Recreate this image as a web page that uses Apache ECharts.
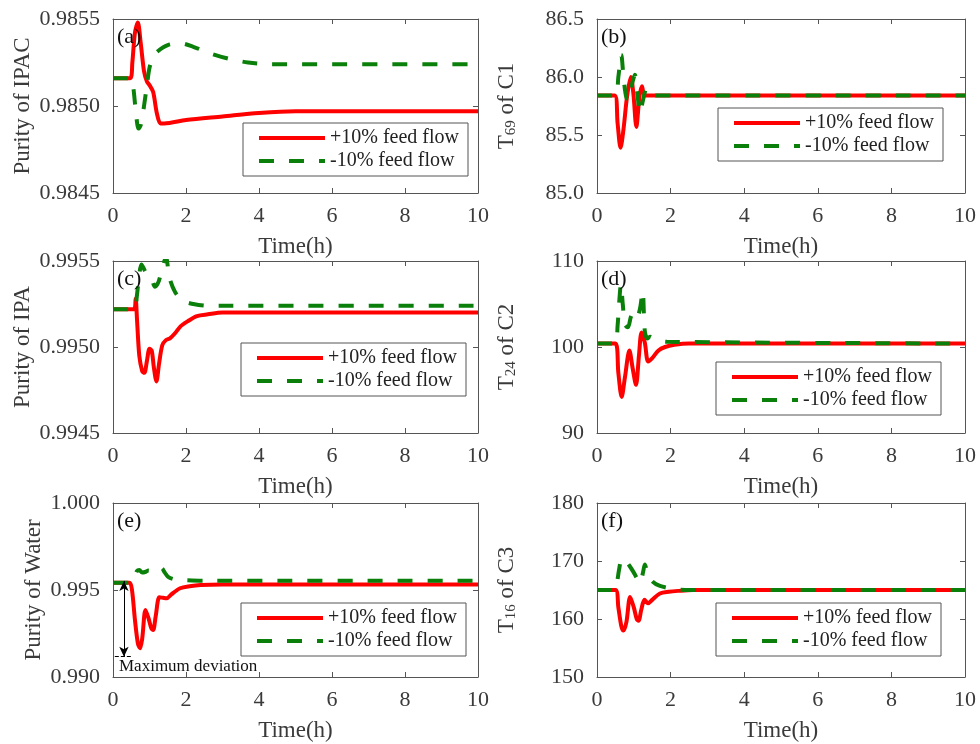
<!DOCTYPE html>
<html>
<head>
<meta charset="utf-8">
<script src="https://cdn.jsdelivr.net/npm/echarts@6/dist/echarts.min.js"></script>
<style>
html,body{margin:0;padding:0;background:#fff;}
#chart{width:980px;height:744px;}
</style>
</head>
<body>
<div id="chart"></div>
<script>
// ---------- DATA ----------
const seriesNames = ['+10% feed flow', '-10% feed flow'];
const xTicks = [0, 2, 4, 6, 8, 10];

// (a) Purity of IPAC
const aRedT   = [0, 0.47, 0.53, 0.6, 0.68, 0.76, 0.85, 0.93, 1.0, 1.1, 1.2, 1.3, 1.4, 2, 3, 4, 5, 10];
const aRedY   = [0.98516, 0.98516, 0.98525, 0.98542, 0.98548, 0.98536, 0.98520, 0.98514, 0.98512, 0.98508, 0.98496, 0.98490, 0.98490, 0.98492, 0.98494, 0.98496, 0.98497, 0.98497];
const aGreenT = [0, 0.5, 0.56, 0.62, 0.7, 0.76, 0.85, 0.93, 1.0, 1.1, 1.2, 1.5, 1.85, 2.2, 2.7, 3.2, 3.7, 4.3, 10];
const aGreenY = [0.98516, 0.98516, 0.98510, 0.98498, 0.98487, 0.98489, 0.98500, 0.98512, 0.98522, 0.98528, 0.98531, 0.98535, 0.98536, 0.98534, 0.98530, 0.98527, 0.98525, 0.98524, 0.98524];

// (b) T69 of C1
const bRedT   = [0, 0.48, 0.56, 0.64, 0.72, 0.82, 0.92, 0.99, 1.07, 1.15, 1.22, 1.32, 10];
const bRedY   = [85.84, 85.84, 85.6, 85.39, 85.55, 85.84, 86.0, 85.85, 85.57, 85.82, 85.92, 85.84, 85.84];
const bGreenT = [0, 0.5, 0.58, 0.66, 0.72, 0.8, 0.88, 0.96, 1.03, 1.1, 1.17, 1.25, 1.35, 1.5, 10];
const bGreenY = [85.84, 85.84, 86.0, 86.19, 86.0, 85.82, 85.8, 85.95, 86.02, 85.85, 85.69, 85.8, 85.9, 85.84, 85.84];

// (c) Purity of IPA
const cRedT   = [0, 0.58, 0.62, 0.66, 0.72, 0.8, 0.86, 0.93, 1.0, 1.06, 1.12, 1.19, 1.26, 1.35, 1.45, 1.56, 1.7, 1.85, 2.05, 2.3, 2.6, 3.0, 10];
const cRedY   = [0.99522, 0.99522, 0.99528, 0.99515, 0.99495, 0.99486, 0.99485, 0.99492, 0.99499, 0.99498, 0.99488, 0.99480, 0.99490, 0.99501, 0.99504, 0.99505, 0.99508, 0.99512, 0.99515, 0.99518, 0.99519, 0.99520, 0.99520];
const cGreenT = [0, 0.6, 0.65, 0.7, 0.78, 0.88, 0.97, 1.05, 1.15, 1.25, 1.35, 1.45, 1.55, 1.7, 1.9, 2.2, 2.6, 3.0, 10];
const cGreenY = [0.99522, 0.99522, 0.99529, 0.99538, 0.99548, 0.99544, 0.99541, 0.99540, 0.99535, 0.99538, 0.99546, 0.99552, 0.99540, 0.99532, 0.99527, 0.99525, 0.99524, 0.99524, 0.99524];

// (d) T24 of C2
const dRedT   = [0, 0.5, 0.58, 0.67, 0.76, 0.88, 0.97, 1.06, 1.14, 1.21, 1.3, 1.39, 1.5, 1.67, 1.85, 2.1, 2.5, 10];
const dRedY   = [100.4, 100.4, 97, 94.2, 96.5, 99.6, 97.5, 95.6, 99, 101.7, 100.5, 98.3, 98.7, 99.6, 100.0, 100.25, 100.4, 100.4];
const dGreenT = [0, 0.5, 0.56, 0.6, 0.65, 0.7, 0.76, 0.84, 0.92, 0.99, 1.08, 1.17, 1.24, 1.3, 1.37, 1.44, 1.6, 1.9, 10];
const dGreenY = [100.4, 100.4, 102.5, 105, 107.3, 105, 102.6, 102.3, 103.5, 104, 103.4, 104.5, 106.5, 101.8, 101.0, 101.2, 100.8, 100.6, 100.4];

// (e) Purity of Water
const eRedT   = [0, 0.45, 0.52, 0.6, 0.68, 0.74, 0.8, 0.89, 0.97, 1.05, 1.1, 1.17, 1.27, 1.37, 1.47, 1.6, 1.84, 2.1, 2.4, 3, 10];
const eRedY   = [0.99542, 0.99542, 0.99500, 0.99330, 0.99195, 0.99165, 0.99220, 0.99385, 0.99340, 0.99280, 0.99270, 0.99350, 0.99458, 0.99455, 0.99452, 0.99475, 0.99510, 0.99522, 0.99529, 0.99532, 0.99532];
const eGreenT = [0, 0.5, 0.58, 0.66, 0.72, 0.8, 0.9, 0.97, 1.05, 1.15, 1.25, 1.33, 1.42, 1.51, 1.7, 2.0, 2.5, 10];
const eGreenY = [0.99542, 0.99542, 0.99570, 0.99610, 0.99615, 0.99600, 0.99605, 0.99612, 0.99610, 0.99602, 0.99615, 0.99625, 0.99600, 0.99575, 0.99560, 0.99556, 0.99553, 0.99553];
// "Maximum deviation" annotation (data coordinates)
const eArrowX = 0.3;
const eArrowY = [0.99552, 0.99117];
const eDashX  = [0.05, 0.54];

// (f) T16 of C3
const fRedT   = [0, 0.5, 0.58, 0.66, 0.72, 0.8, 0.9, 1.0, 1.08, 1.13, 1.2, 1.29, 1.39, 1.5, 1.71, 1.95, 2.2, 2.6, 10];
const fRedY   = [165, 165, 162, 158.8, 158.0, 159.5, 163.8, 162, 160, 159.7, 161.5, 163.3, 162.7, 163.3, 164.4, 164.7, 164.85, 165, 165];
const fGreenT = [0, 0.5, 0.55, 0.6, 0.66, 0.72, 0.8, 0.9, 1.0, 1.08, 1.17, 1.25, 1.3, 1.37, 1.5, 1.71, 2.07, 2.5, 10];
const fGreenY = [165, 165, 166.5, 168.5, 170.2, 169.5, 169.7, 169.0, 168.0, 167.1, 166.2, 168, 169.4, 168, 166.5, 165.7, 165.2, 165.0, 165];

// y axis ranges / ticks
const yMin = [0.9845, 85.0, 0.9945, 90, 0.990, 150];
const yMax = [0.9855, 86.5, 0.9955, 110, 1.000, 180];
const yInt = [0.0005, 0.5, 0.0005, 10, 0.005, 10];
const yDec = [4, 1, 4, 0, 3, 0];
const panelLabels = ['(a)', '(b)', '(c)', '(d)', '(e)', '(f)'];
const yNames = ['Purity of IPAC', '{t|T}{s|69}{t| of C1}', 'Purity of IPA', '{t|T}{s|24}{t| of C2}', 'Purity of Water', '{t|T}{s|16}{t| of C3}'];

// ---------- LAYOUT ----------
const FONT = '"Liberation Serif", "Times New Roman", serif';
const colL = 113, colR = 597, wL = 365, wR = 368;
const rowT = [19, 261, 503], rowH = [174, 172, 174];
const nameGaps = [79, 78, 79, 78, 68, 78];
const legendPos = [[243, 123], [718, 108], [241, 343], [716, 362], [241, 603], [716, 603]];

const zip = (t, y) => t.map((v, i) => [v, y[i]]);
const redData = [zip(aRedT, aRedY), zip(bRedT, bRedY), zip(cRedT, cRedY), zip(dRedT, dRedY), zip(eRedT, eRedY), zip(fRedT, fRedY)];
const greenData = [zip(aGreenT, aGreenY), zip(bGreenT, bGreenY), zip(cGreenT, cGreenY), zip(dGreenT, dGreenY), zip(eGreenT, eGreenY), zip(fGreenT, fGreenY)];

const grid = [], xAxis = [], yAxis = [], series = [], legend = [], graphic = [];
const axisColor = '#555';
const labelColor = '#3a3a3a';

for (let i = 0; i < 6; i++) {
  const col = i % 2, row = Math.floor(i / 2);
  const left = col === 0 ? colL : colR;
  const width = col === 0 ? wL : wR;
  grid.push({ left: left, top: rowT[row], width: width, height: rowH[row], containLabel: false });
  const xBase = {
    type: 'value', gridIndex: i, min: xTicks[0], max: xTicks[xTicks.length - 1], interval: 2,
    splitLine: { show: false },
    axisLine: { show: true, onZero: false, lineStyle: { color: axisColor, width: 1 } },
    axisTick: { show: true, inside: true, length: 5, lineStyle: { color: axisColor } }
  };
  xAxis.push(Object.assign({}, xBase, {
    position: 'bottom',
    name: 'Time(h)', nameLocation: 'middle', nameGap: 42,
    nameTextStyle: { fontFamily: FONT, fontSize: 23, color: labelColor },
    axisLabel: { margin: 12, fontFamily: FONT, fontSize: 22, color: labelColor }
  }));
  xAxis.push(Object.assign({}, xBase, { position: 'top', axisLabel: { show: false } }));
  const dec = yDec[i];
  const yBase = {
    type: 'value', gridIndex: i, min: yMin[i], max: yMax[i], interval: yInt[i],
    splitLine: { show: false },
    axisLine: { show: true, onZero: false, lineStyle: { color: axisColor, width: 1 } },
    axisTick: { show: true, inside: true, length: 5, lineStyle: { color: axisColor } }
  };
  yAxis.push(Object.assign({}, yBase, {
    position: 'left',
    name: yNames[i], nameLocation: 'middle', nameGap: nameGaps[i], nameRotate: 90,
    nameTextStyle: {
      fontFamily: FONT, fontSize: 23, color: labelColor,
      rich: {
        t: { fontFamily: FONT, fontSize: 23, color: labelColor },
        s: { fontFamily: FONT, fontSize: 15, color: labelColor, verticalAlign: 'bottom', padding: [10, 0, 0, 0] }
      }
    },
    axisLabel: { margin: 13, fontFamily: FONT, fontSize: 22, color: labelColor, formatter: v => v.toFixed(dec) }
  }));
  yAxis.push(Object.assign({}, yBase, { position: 'right', axisLabel: { show: false } }));

  series.push({
    name: seriesNames[0], type: 'line', xAxisIndex: 2 * i, yAxisIndex: 2 * i,
    data: redData[i], symbol: 'none', smooth: 0.3, z: 2,
    lineStyle: { color: '#ff0000', width: 4 }, itemStyle: { color: '#ff0000' }
  });
  series.push({
    name: seriesNames[1], type: 'line', xAxisIndex: 2 * i, yAxisIndex: 2 * i,
    data: greenData[i], symbol: 'none', smooth: 0.3, z: 3,
    lineStyle: { color: '#0a800a', width: 4, type: [15, 15] }, itemStyle: { color: '#0a800a' }
  });

  legend.push({
    data: seriesNames, orient: 'vertical', left: legendPos[i][0], top: legendPos[i][1],
    selectedMode: false, backgroundColor: '#fff', borderColor: '#555', borderWidth: 1,
    padding: [5, 9, 5, 14], itemWidth: 66, itemHeight: 14, itemGap: 3, z: 10,
    itemStyle: { opacity: 0, borderWidth: 0 },
    lineStyle: { width: 4, type: 'inherit' },
    textStyle: { fontFamily: FONT, fontSize: 20, color: '#222', lineHeight: 20 }
  });

  graphic.push({
    type: 'text', left: left + 4, top: rowT[row] + 7,
    style: { text: panelLabels[i], font: '22px ' + FONT, fill: '#111' }, z: 20
  });
}

// Maximum deviation annotation on panel (e)
series[8].markLine = {
  silent: true, animation: false,
  label: { show: false },
  data: [
    [{ coord: [eArrowX, eArrowY[0]], symbol: 'arrow', symbolSize: [7, 10], lineStyle: { color: '#000', width: 1, type: 'solid' } },
     { coord: [eArrowX, eArrowY[1]], symbol: 'arrow', symbolSize: [7, 10] }],
    [{ coord: [eDashX[0], eArrowY[1]], symbol: 'none', lineStyle: { color: '#000', width: 1, type: [4, 2] } },
     { coord: [eDashX[1], eArrowY[1]], symbol: 'none' }]
  ]
};
graphic.push({
  type: 'text', left: 119, top: 658,
  style: { text: 'Maximum deviation', font: '17px ' + FONT, fill: '#111' }, z: 20
});

const chart = echarts.init(document.getElementById('chart'), null, { renderer: 'canvas' });
chart.setOption({
  animation: false,
  backgroundColor: '#fff',
  grid, xAxis, yAxis, series, legend, graphic
});
</script>
</body>
</html>
